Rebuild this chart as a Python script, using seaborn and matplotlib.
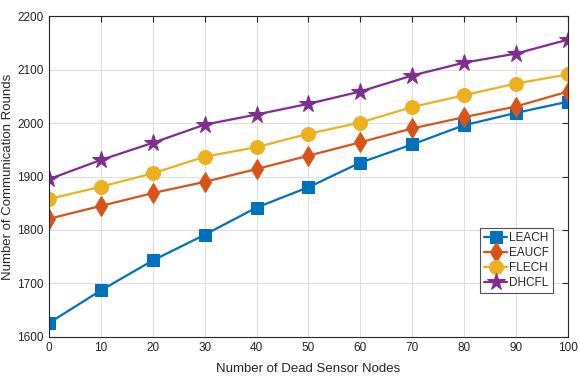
import matplotlib
matplotlib.use("Agg")
import matplotlib.pyplot as plt
import seaborn as sns
import pandas as pd

x_nodes = [0, 10, 20, 30, 40, 50, 60, 70, 80, 90, 100]
leach = [1626, 1687, 1743, 1791, 1842, 1880, 1926, 1960, 1996, 2019, 2040]
eaucf = [1821, 1845, 1869, 1890, 1914, 1939, 1964, 1990, 2011, 2031, 2059]
flech = [1858, 1881, 1906, 1937, 1955, 1980, 2001, 2030, 2052, 2074, 2091]
dhcfl = [1895, 1931, 1963, 1997, 2016, 2036, 2059, 2089, 2113, 2130, 2156]
series_names = ["LEACH", "EAUCF", "FLECH", "DHCFL"]
x_ticks = [0, 10, 20, 30, 40, 50, 60, 70, 80, 90, 100]
y_ticks = [1600, 1700, 1800, 1900, 2000, 2100, 2200]

colors = ["#0072BD", "#D95319", "#EDB120", "#7E2F8E"]
markers = ["s", "d", "o", "*"]
msizes = [9, 10, 10, 13]

sns.set_theme(style="white")
plt.rcParams['font.family'] = ['Liberation Sans', 'DejaVu Sans']

fig = plt.figure(figsize=(5.8, 3.76), dpi=100)
ax = fig.add_axes([0.0845, 0.104, 0.8945, 0.853])

for name, vals, c, m, ms in zip(series_names, [leach, eaucf, flech, dhcfl], colors, markers, msizes):
    df = pd.DataFrame({"x": x_nodes, "y": vals})
    sns.lineplot(data=df, x="x", y="y", ax=ax, color=c, marker=m, markersize=ms,
                 markeredgecolor=c, linewidth=1.6, label=name)

ax.set_xlim(0, 100)
ax.set_ylim(1600, 2200)
ax.set_xticks(x_ticks)
ax.set_yticks(y_ticks)
ax.grid(True, color="#e0e0e0", linewidth=0.8)
ax.set_axisbelow(True)
ax.tick_params(direction="in", top=True, right=True, length=4, width=0.8,
               labelsize=8.5, colors="#262626", pad=4)
for s in ax.spines.values():
    s.set_color("#262626")
    s.set_linewidth(0.8)
ax.set_xlabel("Number of Dead Sensor Nodes", fontsize=9.5, color="#262626")
ax.set_ylabel("Number of Communication Rounds", fontsize=9.5, color="#262626")
ax.xaxis.set_label_coords(0.5, -0.082)
ax.yaxis.set_label_coords(-0.068, 0.5)

leg = ax.legend(loc="lower right", bbox_to_anchor=(0.971, 0.136), fontsize=8.5,
                frameon=True, fancybox=False, handlelength=2.0, handletextpad=0.1,
                borderpad=0.35, labelspacing=0.25, borderaxespad=0.0)
leg.get_frame().set_edgecolor("#262626")
leg.get_frame().set_linewidth(0.8)

fig.savefig("out.png", dpi=100)
